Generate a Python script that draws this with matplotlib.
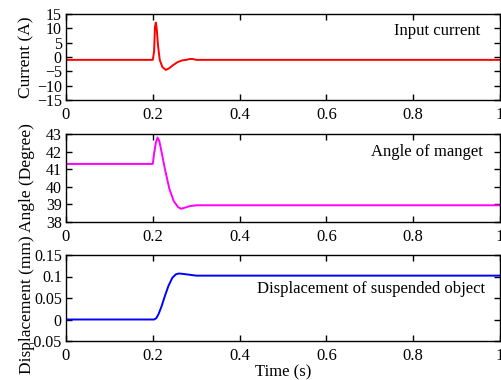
import numpy as np
import matplotlib.pyplot as plt

plt.rcParams['font.family'] = 'Liberation Serif'
plt.rcParams['font.size'] = 12

# values
t_cur = [0, 0.200, 0.203, 0.205, 0.207, 0.209, 0.212, 0.216, 0.222, 0.230, 0.237, 0.247, 0.257, 0.267, 0.277, 0.285, 0.292, 0.300, 1.0]
current = [-1.0, -1.0, 2.0, 10.5, 12.0, 10.0, 4.0, -1.0, -3.5, -4.5, -4.0, -2.8, -1.8, -1.2, -1.0, -0.7, -0.7, -1.0, -1.0]

t_ang = [0, 0.200, 0.203, 0.207, 0.211, 0.215, 0.220, 0.228, 0.238, 0.248, 0.258, 0.265, 0.272, 0.285, 0.300, 1.0]
angle = [41.3, 41.3, 41.9, 42.5, 42.8, 42.6, 42.0, 41.0, 39.9, 39.2, 38.85, 38.75, 38.8, 38.9, 38.95, 38.95]

t_dis = [0, 0.203, 0.208, 0.213, 0.220, 0.228, 0.236, 0.245, 0.253, 0.260, 0.270, 0.285, 0.300, 1.0]
disp = [0, 0, 0.003, 0.012, 0.030, 0.055, 0.078, 0.097, 0.105, 0.107, 0.106, 0.104, 0.102, 0.102]

fig = plt.figure(figsize=(5.01, 3.80), dpi=100)
W, H = 501.0, 380.0
left = 66 / W
width = (500 - 66) / W

def panel(top, bottom):
    return fig.add_axes([left, 1 - bottom / H, width, (bottom - top) / H])

ax1 = panel(14, 100)
ax1.plot(t_cur, current, color='red', lw=1.4)
ax1.set_ylim(-15, 15)
ax1.set_yticks(np.arange(-15, 16, 5))
ax1.set_ylabel('Current (A)', fontsize=12.5)
ax1.text(0.955, 0.89, 'Input current', transform=ax1.transAxes, ha='right', va='top')

ax2 = panel(134, 222)
ax2.plot(t_ang, angle, color='magenta', lw=1.4)
ax2.set_ylim(38, 43)
ax2.set_yticks(np.arange(38, 44, 1))
ax2.set_ylabel('Angle (Degree)', fontsize=12.5)
ax2.text(0.96, 0.89, 'Angle of manget', transform=ax2.transAxes, ha='right', va='top')

ax3 = panel(255, 341)
ax3.plot(t_dis, disp, color='blue', lw=1.4)
ax3.set_ylim(-0.05, 0.15)
ax3.set_yticks([-0.05, 0, 0.05, 0.1, 0.15])
ax3.set_yticklabels(['-0.05', '0', '0.05', '0.1', '0.15'])
ax3.set_ylabel('Displacement (mm)', fontsize=12.5)
ax3.set_xlabel('Time (s)', labelpad=0)
ax3.text(0.965, 0.70, 'Displacement of suspended object', transform=ax3.transAxes, ha='right', va='top')

for ax in (ax1, ax2, ax3):
    ax.set_xlim(0, 1)
    ax.set_xticks([0, 0.2, 0.4, 0.6, 0.8, 1])
    ax.set_xticklabels(['0', '0.2', '0.4', '0.6', '0.8', '1'])
    ax.tick_params(direction='in', top=True, right=True, length=4, width=1, pad=3, labelsize=11.5)
    ax.tick_params(axis='x', pad=5, labelsize=12)
    for s in ax.spines.values():
        s.set_linewidth(1)
    ax.yaxis.set_label_coords(-0.072, 0.5)
ax3.yaxis.set_label_coords(-0.072, 0.42)

fig.savefig('out.png', dpi=100)
